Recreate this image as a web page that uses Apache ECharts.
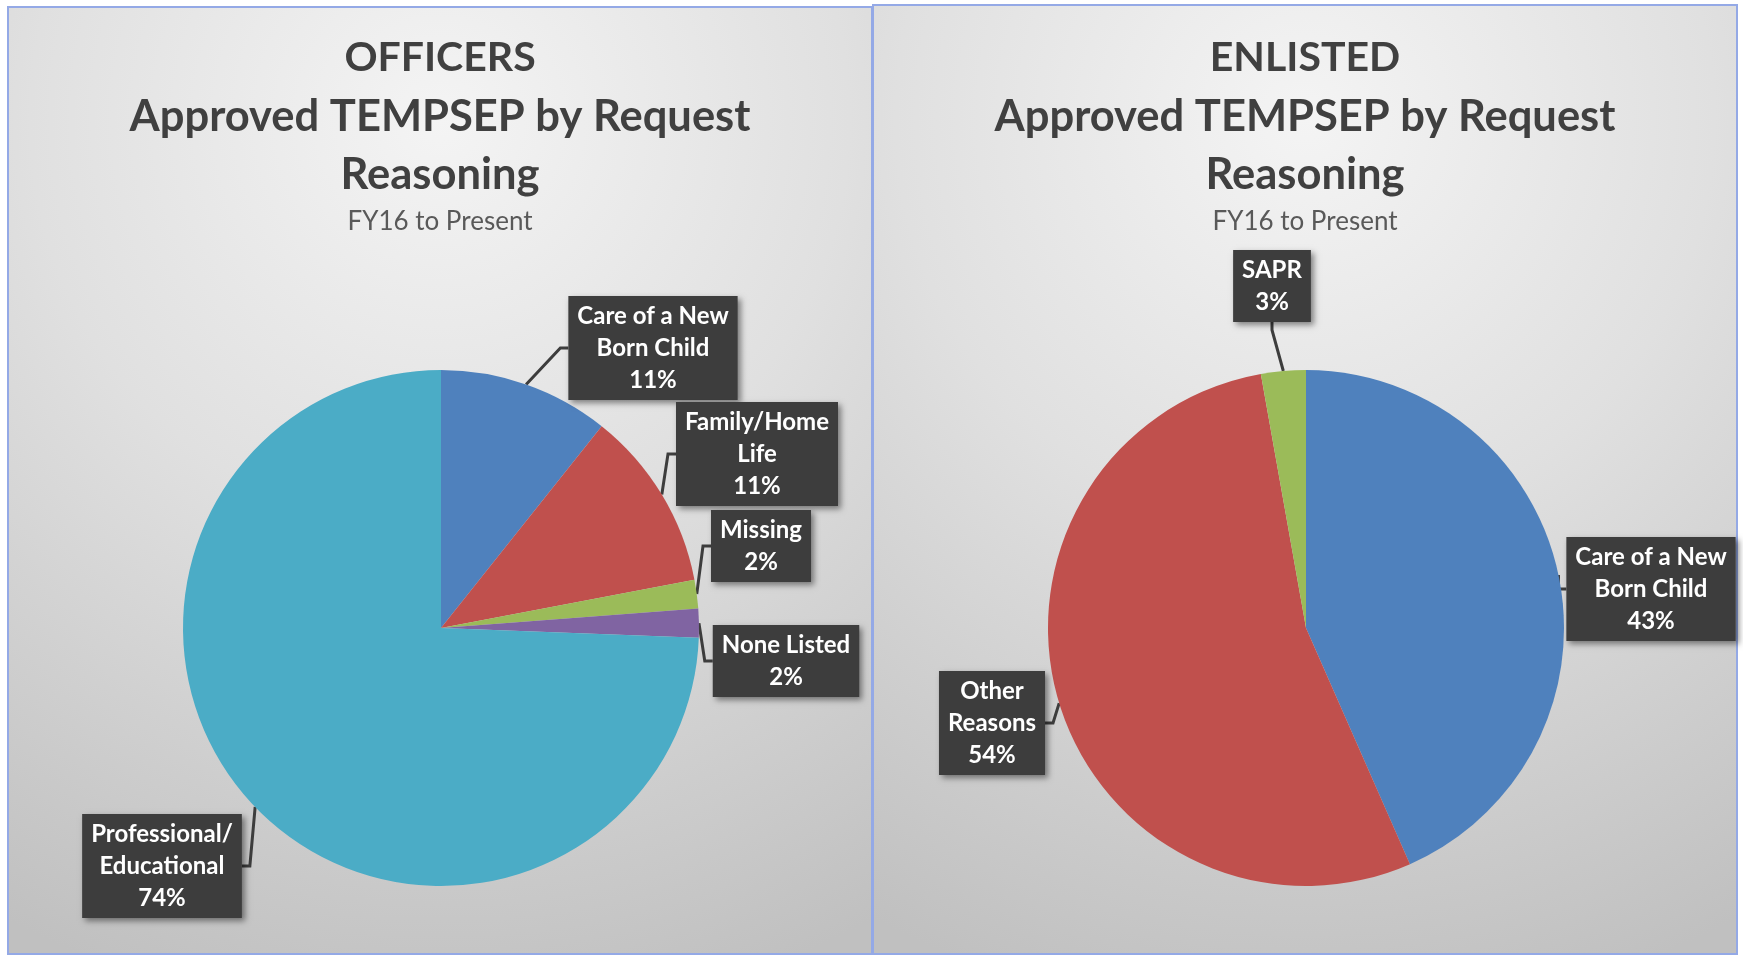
<!DOCTYPE html>
<html>
<head>
<meta charset="utf-8">
<script src="https://cdn.jsdelivr.net/npm/echarts@6/dist/echarts.min.js"></script>
<style>
html,body{margin:0;padding:0;background:#fff;}
#c{width:1743px;height:955px;}
</style>
</head>
<body>
<div id="c"></div>
<script>
// ---- data ----
const officerCategories = ["Care of a New\nBorn Child", "Family/Home\nLife", "Missing", "None Listed", "Professional/\nEducational"];
const officerValues = [10.7, 11.3, 1.8, 1.8, 74.4];
const enlistedCategories = ["Care of a New\nBorn Child", "Other\nReasons", "SAPR"];
const enlistedValues = [43.4, 53.8, 2.8];
const titleLines = ["Approved TEMPSEP by Request", "Reasoning"];
const subtitle = "FY16 to Present";

// ---- styles ----
const officerColors = ['#4f81bd', '#c0504d', '#9bbb59', '#8064a2', '#4bacc6'];
const enlistedColors = ['#4f81bd', '#c0504d', '#9bbb59'];
const FONT = 'Lato, "Open Sans", sans-serif';
// label box centres (chart px)
const officerLabelSpots = [[653, 348], [757, 454], [761, 546], [786, 661], [162, 866]];
const enlistedLabelSpots = [[1651, 589], [992, 723], [1272, 286]];

const chart = echarts.init(document.getElementById('c'), null, {renderer: 'canvas'});

function panelBg(x, y, w, h) {
  return {
    type: 'rect', silent: true, z: -10,
    shape: {x: x, y: y, width: w, height: h},
    style: {
      fill: new echarts.graphic.RadialGradient(0.5, 0.12, 1.05, [
        {offset: 0, color: '#f4f4f4'},
        {offset: 0.45, color: '#e0e0e0'},
        {offset: 1, color: '#c0c0c0'}
      ]),
      stroke: '#94a9e6', lineWidth: 2
    }
  };
}

function makeTitle(head, cx) {
  return {
    text: '{h|' + head + '}\n' + titleLines.map(t => '{m|' + t + '}').join('\n'),
    subtext: subtitle,
    left: cx, top: 29, textAlign: 'center', padding: 0, itemGap: 2,
    textStyle: {
      fontFamily: FONT, fontWeight: 'bold', fontSize: 43, lineHeight: 58.5, color: '#404040',
      rich: {
        h: {fontFamily: FONT, fontWeight: 'bold', fontSize: 41, lineHeight: 58.5, color: '#404040'},
        m: {fontFamily: FONT, fontWeight: 'bold', fontSize: 43.5, lineHeight: 58.5, color: '#404040'}
      }
    },
    subtextStyle: {fontFamily: FONT, fontSize: 26, lineHeight: 30, color: '#595959'}
  };
}

const labelStyle = {
  show: true, position: 'outside',
  formatter: p => p.name + '\n' + Math.round(p.value) + '%',
  color: '#ffffff', fontFamily: FONT, fontWeight: 'bold', fontSize: 24, lineHeight: 32,
  align: 'center',
  backgroundColor: '#3d3d3d', padding: [8, 9, 0, 9],
  shadowColor: 'rgba(0,0,0,0.45)', shadowBlur: 6, shadowOffsetX: 3, shadowOffsetY: 3
};

function pieSeries(cats, vals, colors, center, spots) {
  return {
    type: 'pie', radius: 258, center: center, startAngle: 90, clockwise: true,
    avoidLabelOverlap: false,
    data: cats.map((c, i) => ({name: c, value: vals[i], itemStyle: {color: colors[i]}})),
    label: labelStyle,
    labelLine: {show: true, length: 12, length2: 8, smooth: false, lineStyle: {color: '#3d3d3d', width: 3}},
    labelLayout: p => ({x: spots[p.dataIndex][0], y: spots[p.dataIndex][1], align: 'center', verticalAlign: 'middle', hideOverlap: false, moveOverlap: false}),
    itemStyle: {borderWidth: 0},
    emphasis: {disabled: true},
    animation: false
  };
}

chart.setOption({
  animation: false,
  title: [makeTitle('OFFICERS', 440), makeTitle('ENLISTED', 1305)],
  graphic: [panelBg(8, 7, 864, 947), panelBg(873, 5, 864, 949)],
  series: [
    pieSeries(officerCategories, officerValues, officerColors, [441, 628], officerLabelSpots),
    pieSeries(enlistedCategories, enlistedValues, enlistedColors, [1306, 628], enlistedLabelSpots)
  ]
});
</script>
</body>
</html>
